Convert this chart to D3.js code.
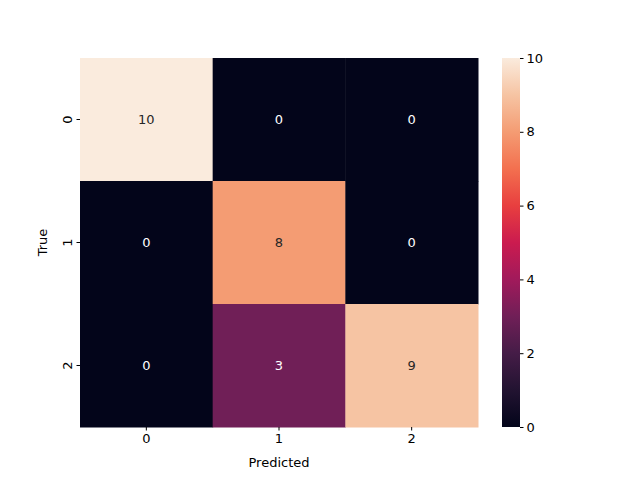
<!DOCTYPE html>
<html><head><meta charset="utf-8">
<script src="https://cdn.jsdelivr.net/npm/d3@7"></script>
<style>body{margin:0;background:#fff}text{font-family:"DejaVu Sans",sans-serif}</style>
</head><body><svg id="c" width="640" height="480"></svg>
<script>
const labels = ['0', '1', '2'];
const matrix = [[10, 0, 0], [0, 8, 0], [0, 3, 9]];
const cbTicks = [0, 2, 4, 6, 8, 10];
const rocket = ['#03051a', '#221331', '#451c47', '#701f57', '#a11a5b', '#cb1b4f', '#e83f3f', '#f3704f', '#f49c73', '#f6c4a3', '#faebdd'];

const svg = d3.select('#c');
const L = 80, R = 478, T = 58, B = 427;
const x = d3.scaleBand().domain(labels).range([L, R]);
const y = d3.scaleBand().domain(labels).range([T, B]);
const color = d3.scaleLinear().domain(d3.range(11)).range(rocket);

const cells = matrix.flatMap((row, i) => row.map((v, j) => ({ r: labels[i], c: labels[j], v })));
svg.selectAll('rect.cell').data(cells).enter().append('rect')
  .attr('x', d => x(d.c)).attr('y', d => y(d.r))
  .attr('width', x.bandwidth() + 0.5).attr('height', y.bandwidth() + 0.5)
  .attr('fill', d => color(d.v));
svg.selectAll('text.ann').data(cells).enter().append('text')
  .attr('x', d => x(d.c) + x.bandwidth() / 2).attr('y', d => y(d.r) + y.bandwidth() / 2)
  .attr('text-anchor', 'middle').attr('dy', '0.35em').attr('font-size', 13)
  .attr('fill', d => d.v > 5 ? '#262626' : '#fff').text(d => d.v);

const xa = svg.append('g').attr('transform', `translate(0,${B})`).call(d3.axisBottom(x).tickSize(3.5));
const ya = svg.append('g').attr('transform', `translate(${L},0)`).call(d3.axisLeft(y).tickSize(3.5));
[xa, ya].forEach(a => { a.select('.domain').remove(); a.selectAll('text').attr('font-size', 13).attr('fill', '#000'); });
ya.selectAll('.tick text').attr('transform', 'rotate(-90)').attr('x', 0).attr('dy', 0).attr('y', -8)
  .attr('text-anchor', 'middle').attr('dominant-baseline', 'auto');

svg.append('text').attr('x', (L + R) / 2).attr('y', 467).attr('text-anchor', 'middle').attr('font-size', 13).text('Predicted');
svg.append('text').attr('transform', `translate(47,${(T + B) / 2}) rotate(-90)`).attr('text-anchor', 'middle').attr('font-size', 13).text('True');

// colorbar
const cbx = 502, cbw = 18;
const cy = d3.scaleLinear().domain([0, 10]).range([B, T]);
const grad = svg.append('defs').append('linearGradient').attr('id', 'g').attr('x1', 0).attr('y1', 1).attr('x2', 0).attr('y2', 0);
rocket.forEach((c, i) => grad.append('stop').attr('offset', i / 10).attr('stop-color', c));
svg.append('rect').attr('x', cbx).attr('y', T).attr('width', cbw).attr('height', B - T).attr('fill', 'url(#g)');
const ca = svg.append('g').attr('transform', `translate(${cbx + cbw},0)`).call(d3.axisRight(cy).tickValues(cbTicks).tickSize(3.5));
ca.select('.domain').remove();
ca.selectAll('text').attr('font-size', 13).attr('fill', '#000');
</script></body></html>
